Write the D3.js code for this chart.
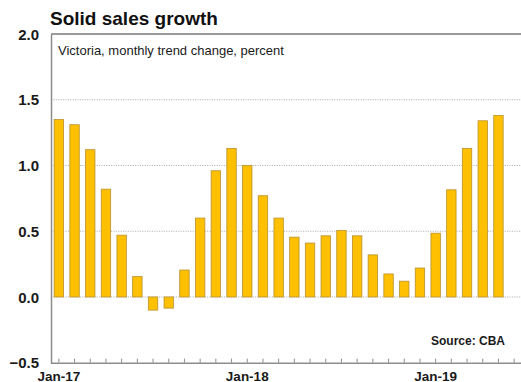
<!DOCTYPE html>
<html>
<head>
<meta charset="utf-8">
<script src="https://cdn.jsdelivr.net/npm/d3@7/dist/d3.min.js"></script>
<style>
  html, body { margin: 0; padding: 0; background: #fff; }
  svg { display: block; font-family: "Liberation Sans", Arial, sans-serif; }
</style>
</head>
<body>
<svg id="chart" width="521" height="382"></svg>
<script>
// Monthly categories (Jun-19 slot is left empty)
const months = ["Jan-17","Feb-17","Mar-17","Apr-17","May-17","Jun-17","Jul-17","Aug-17","Sep-17","Oct-17","Nov-17","Dec-17",
                "Jan-18","Feb-18","Mar-18","Apr-18","May-18","Jun-18","Jul-18","Aug-18","Sep-18","Oct-18","Nov-18","Dec-18",
                "Jan-19","Feb-19","Mar-19","Apr-19","May-19","Jun-19"];
// Victoria, monthly trend change in sales, percent
const salesGrowth = [1.35, 1.31, 1.12, 0.82, 0.47, 0.155, -0.10, -0.085, 0.205, 0.60, 0.96, 1.13,
                     1.00, 0.77, 0.60, 0.455, 0.41, 0.465, 0.505, 0.465, 0.32, 0.175, 0.12, 0.22,
                     0.485, 0.815, 1.13, 1.34, 1.38];
const yTicks = [-0.5, 0.0, 0.5, 1.0, 1.5, 2.0];
const xLabels = ["Jan-17", "Jan-18", "Jan-19"];

const svg = d3.select("#chart");
const plotLeft = 51, plotRight = 522, plotTop = 34, plotBottom = 362.7;

const x = d3.scaleBand().domain(months).range([plotLeft, plotRight]).paddingInner(0.4).paddingOuter(0.2);
const y = d3.scaleLinear().domain([-0.5, 2.0]).range([plotBottom, plotTop]);

// Dotted gridlines
svg.append("g")
  .selectAll("line")
  .data(yTicks.filter(v => v > -0.5 && v < 2.0))
  .join("line")
  .attr("x1", plotLeft).attr("x2", 521)
  .attr("y1", d => y(d)).attr("y2", d => y(d))
  .attr("stroke", "#b5b5b5")
  .attr("stroke-width", 1)
  .attr("stroke-dasharray", "1.2,1.2");

// Bars
svg.append("g")
  .selectAll("rect")
  .data(salesGrowth)
  .join("rect")
  .attr("x", (d, i) => x(months[i]))
  .attr("width", x.bandwidth())
  .attr("y", d => y(Math.max(0, d)))
  .attr("height", d => Math.abs(y(d) - y(0)))
  .attr("fill", "#FEC000")
  .attr("stroke", "#B8912E")
  .attr("stroke-width", 0.8);

// Top frame line
svg.append("line")
  .attr("x1", plotLeft).attr("x2", 521)
  .attr("y1", y(2.0)).attr("y2", y(2.0))
  .attr("stroke", "#9a9a9a").attr("stroke-width", 2);

// Left axis
const yAxis = d3.axisLeft(y).tickValues(yTicks).tickFormat(d3.format(".1f")).tickSize(0).tickPadding(12);
const gy = svg.append("g").attr("transform", `translate(${plotLeft},0)`).call(yAxis);
gy.select(".domain").attr("stroke", "#8c8c8c").attr("stroke-width", 1.5);
gy.selectAll("text")
  .attr("font-size", 15).attr("font-weight", "bold").attr("fill", "#1a1a1a")
  .attr("font-family", "Liberation Sans, Arial, sans-serif")
  .attr("dy", "0.35em");

// Bottom axis with inward ticks at every month
const xAxis = d3.axisBottom(x).tickSize(-4).tickFormat(d => xLabels.includes(d) ? d : "").tickPadding(9);
const gx = svg.append("g").attr("transform", `translate(0,${plotBottom})`).call(xAxis);
gx.select(".domain").attr("d", `M${plotLeft},0.5H521`).attr("stroke", "#8c8c8c").attr("stroke-width", 1.5);
gx.selectAll(".tick line").attr("stroke", "#8c8c8c").attr("stroke-width", 1);
gx.selectAll("text")
  .attr("font-size", 13.5).attr("font-weight", "bold").attr("fill", "#1a1a1a")
  .attr("font-family", "Liberation Sans, Arial, sans-serif");

// Titles and source
svg.append("text").attr("x", 50).attr("y", 25)
  .attr("font-size", 19).attr("font-weight", "bold").attr("fill", "#111")
  .text("Solid sales growth");
svg.append("text").attr("x", 58).attr("y", 55)
  .attr("font-size", 13).attr("fill", "#1a1a1a")
  .text("Victoria, monthly trend change, percent");
svg.append("text").attr("x", 505).attr("y", 345).attr("text-anchor", "end")
  .attr("font-size", 12).attr("font-weight", "bold").attr("fill", "#1a1a1a")
  .text("Source: CBA");
</script>
</body>
</html>
